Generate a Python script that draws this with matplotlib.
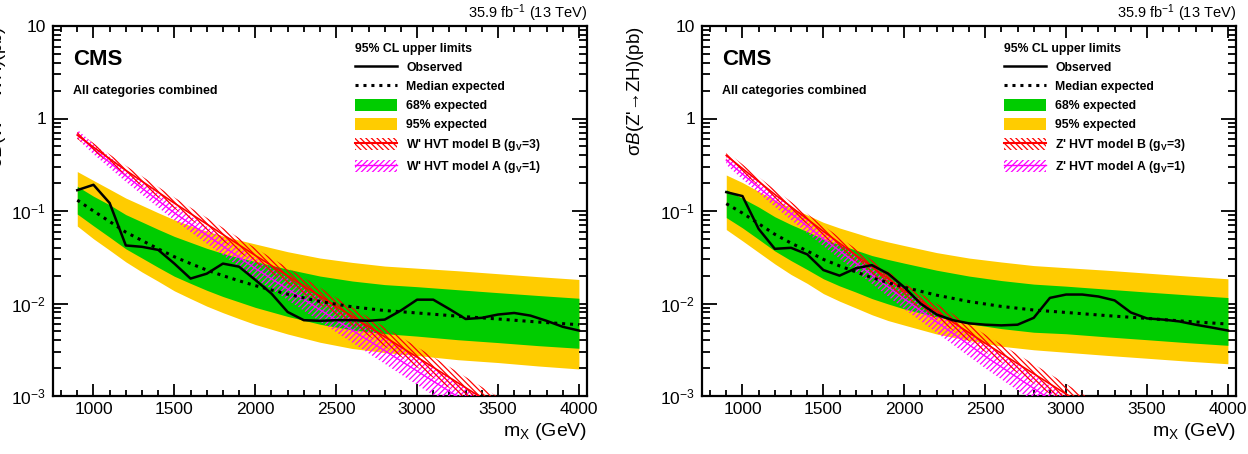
import matplotlib
matplotlib.use("Agg")
import matplotlib.pyplot as plt
from matplotlib.lines import Line2D
from matplotlib.patches import Patch
from matplotlib.ticker import MultipleLocator, LogLocator, NullFormatter

plt.rcParams['font.family'] = ['Liberation Sans', 'DejaVu Sans']
plt.rcParams['mathtext.fontset'] = 'custom'
plt.rcParams['mathtext.rm'] = 'Liberation Sans'
plt.rcParams['mathtext.it'] = 'Liberation Sans:italic'
plt.rcParams['mathtext.bf'] = 'Liberation Sans:bold'
plt.rcParams['hatch.linewidth'] = 0.9

# ---- data: expected limits (mass in GeV, limit in pb)
exp_mass = [900, 1000, 1100, 1200, 1300, 1400, 1500, 1600, 1700, 1800, 1900, 2000,
            2200, 2400, 2600, 2800, 3000, 3250, 3500, 3750, 4000]

wh_exp = [0.131, 0.100, 0.077, 0.059, 0.048, 0.039, 0.032, 0.027, 0.023, 0.020, 0.0176, 0.0156,
          0.0126, 0.0105, 0.0092, 0.0084, 0.0079, 0.0073, 0.0068, 0.0063, 0.0059]
wh_95_up = [0.267, 0.214, 0.172, 0.138, 0.115, 0.0957, 0.0804, 0.0694, 0.0605, 0.0538, 0.0485, 0.0440,
            0.0363, 0.0310, 0.0278, 0.0254, 0.0241, 0.0226, 0.0210, 0.0195, 0.0182]
wh_68_up = [0.185, 0.1445, 0.1166, 0.0914, 0.0761, 0.0633, 0.0531, 0.0458, 0.0395, 0.0348, 0.0313, 0.0284,
            0.0235, 0.0198, 0.0175, 0.0160, 0.0152, 0.0141, 0.0131, 0.0122, 0.0114]
wh_68_dn = [0.0927, 0.0692, 0.0521, 0.0390, 0.0310, 0.0246, 0.0197, 0.0165, 0.0139, 0.0119, 0.0104, 0.00908,
            0.00725, 0.00597, 0.00517, 0.00472, 0.00444, 0.00406, 0.00378, 0.00350, 0.00328]
wh_95_dn = [0.0688, 0.0501, 0.0377, 0.0282, 0.0219, 0.0174, 0.0137, 0.0113, 0.00937, 0.00796, 0.00685, 0.00593,
            0.00468, 0.00381, 0.00326, 0.00295, 0.00274, 0.00247, 0.00230, 0.00211, 0.00196]

zh_exp = [0.12, 0.095, 0.073, 0.056, 0.045, 0.037, 0.030, 0.0255, 0.022, 0.019, 0.0168, 0.0150,
          0.0123, 0.0105, 0.0093, 0.0085, 0.0080, 0.0074, 0.0069, 0.0064, 0.0060]
zh_95_up = [0.245, 0.203, 0.163, 0.131, 0.108, 0.0908, 0.0754, 0.0655, 0.0579, 0.0511, 0.0463, 0.0423,
            0.0355, 0.0310, 0.0281, 0.0257, 0.0244, 0.0229, 0.0213, 0.0198, 0.0185]
zh_68_up = [0.170, 0.137, 0.1105, 0.0867, 0.0713, 0.0600, 0.0498, 0.0433, 0.0378, 0.0330, 0.0299, 0.0273,
            0.0229, 0.0198, 0.0177, 0.0162, 0.0154, 0.0143, 0.0133, 0.0124, 0.0116]
zh_68_dn = [0.0849, 0.0657, 0.0494, 0.0370, 0.0291, 0.0233, 0.0185, 0.0155, 0.0133, 0.0113, 0.00989, 0.00873,
            0.00716, 0.00604, 0.00535, 0.00489, 0.00471, 0.00436, 0.00406, 0.00377, 0.00353]
zh_95_dn = [0.0630, 0.0476, 0.0357, 0.0268, 0.0206, 0.0165, 0.0128, 0.0106, 0.00896, 0.00756, 0.00654, 0.00584,
            0.00468, 0.00399, 0.00345, 0.00316, 0.00297, 0.00275, 0.00256, 0.00238, 0.00223]

# ---- data: observed limits
obs_mass = list(range(900, 4001, 100))
wh_obs = [0.168, 0.192, 0.122, 0.0424, 0.041, 0.038, 0.027, 0.0186, 0.021, 0.027, 0.025, 0.018,
          0.0128, 0.0081, 0.0066, 0.0065, 0.0066, 0.0066, 0.0065, 0.0067, 0.0084, 0.011, 0.011,
          0.0087, 0.0068, 0.0070, 0.0076, 0.0079, 0.0074, 0.0065, 0.0056, 0.0051]
zh_obs = [0.16, 0.145, 0.064, 0.039, 0.040, 0.034, 0.023, 0.020, 0.024, 0.026, 0.021, 0.015,
          0.010, 0.0076, 0.0066, 0.0061, 0.0059, 0.0058, 0.0059, 0.0070, 0.0115, 0.0125, 0.0125,
          0.0119, 0.0108, 0.0080, 0.0069, 0.0067, 0.0064, 0.0059, 0.0055, 0.0051]

# ---- data: HVT theory predictions (central, upper, lower)
hvt_mass = [900, 1000, 1200, 1500, 2000, 2500, 3000, 3500, 4000]

wp_B = [0.661, 0.490, 0.275, 0.1216, 0.0331, 0.00933, 0.00263, 0.000741, 0.000209]
wp_B_up = [0.724, 0.543, 0.309, 0.140, 0.0398, 0.0116, 0.00339, 0.000977, 0.000282]
wp_B_dn = [0.603, 0.442, 0.245, 0.106, 0.0275, 0.0075, 0.00204, 0.000562, 0.000155]
wp_A = [0.676, 0.468, 0.240, 0.0955, 0.0240, 0.00661, 0.00186, 0.000525, 0.000148]
wp_A_up = [0.759, 0.531, 0.279, 0.115, 0.0309, 0.00891, 0.00263, 0.000759, 0.000219]
wp_A_dn = [0.603, 0.412, 0.207, 0.0794, 0.0186, 0.0049, 0.00132, 0.000363, 0.000100]

zp_B = [0.398, 0.288, 0.151, 0.0603, 0.0138, 0.00372, 0.00105, 0.000295, 0.0000832]
zp_B_up = [0.437, 0.320, 0.170, 0.0692, 0.0166, 0.00462, 0.00135, 0.000389, 0.000112]
zp_B_dn = [0.363, 0.260, 0.135, 0.0525, 0.0115, 0.00299, 0.000813, 0.000224, 0.0000617]
zp_A = [0.355, 0.251, 0.129, 0.0501, 0.0112, 0.00269, 0.000708, 0.000191, 0.0000513]
zp_A_up = [0.398, 0.285, 0.150, 0.0603, 0.0145, 0.00363, 0.00100, 0.000275, 0.0000759]
zp_A_dn = [0.316, 0.221, 0.111, 0.0417, 0.00871, 0.00200, 0.000501, 0.000132, 0.0000347]

GREEN = '#00cc00'
YELLOW = '#ffcc00'
RED = '#ff0000'
MAGENTA = '#ff00ff'


def draw_panel(ax, exp, up95, up68, dn68, dn95, obs, B, B_up, B_dn, A, A_up, A_dn,
               ylabel, boson, label_x):
    ax.fill_between(exp_mass, dn95, up95, color=YELLOW, lw=0, zorder=1)
    ax.fill_between(exp_mass, dn68, up68, color=GREEN, lw=0, zorder=2)
    ax.fill_between(hvt_mass, A_dn, A_up, facecolor='none', edgecolor=MAGENTA,
                    hatch='//////', lw=0, zorder=3)
    ax.plot(hvt_mass, A, color=MAGENTA, lw=1.0, zorder=3)
    ax.fill_between(hvt_mass, B_dn, B_up, facecolor='none', edgecolor=RED,
                    hatch='\\\\\\\\\\\\', lw=0, zorder=4)
    ax.plot(hvt_mass, B, color=RED, lw=1.2, zorder=4)
    ax.plot(exp_mass, exp, color='black', ls=(0, (1, 1.6)), lw=2.2, zorder=5)
    ax.plot(obs_mass, obs, color='black', lw=1.8, zorder=6)

    ax.set_yscale('log')
    ax.set_xlim(750, 4050)
    ax.set_ylim(1e-3, 10)
    ax.set_yticks([1e-3, 1e-2, 1e-1, 1, 10])
    ax.set_yticklabels([r'$10^{-3}$', r'$10^{-2}$', r'$10^{-1}$', '1', '10'])
    ax.yaxis.set_minor_locator(LogLocator(base=10, subs=range(2, 10), numticks=20))
    ax.yaxis.set_minor_formatter(NullFormatter())
    ax.xaxis.set_major_locator(MultipleLocator(500))
    ax.xaxis.set_minor_locator(MultipleLocator(100))
    ax.tick_params(which='both', direction='in', top=True, right=True, width=1.3,
                   labelsize=12.5, colors='black')
    ax.tick_params(axis='x', which='major', length=8.5, pad=4)
    ax.tick_params(axis='x', which='minor', length=4.5)
    ax.tick_params(axis='y', which='major', length=11, pad=5)
    ax.tick_params(axis='y', which='minor', length=5.5)
    for sp in ax.spines.values():
        sp.set_linewidth(1.6)

    ax.set_xlabel(r'm$_\mathrm{X}$ (GeV)', fontsize=14, loc='right', labelpad=3)
    ax.set_ylabel(ylabel, fontsize=13.5, loc='top')
    ax.yaxis.set_label_coords(label_x, 1.0)

    ax.text(1.0, 1.006, r'35.9 fb$^{-1}$ (13 TeV)', transform=ax.transAxes,
            ha='right', va='bottom', fontsize=10.5)
    ax.text(0.037, 0.91, 'CMS', transform=ax.transAxes, ha='left', va='center',
            fontsize=16, fontweight='bold')
    ax.text(0.037, 0.825, 'All categories combined', transform=ax.transAxes,
            ha='left', va='center', fontsize=9, fontweight='bold')

    handles = [
        Line2D([], [], color='black', lw=1.8),
        Line2D([], [], color='black', ls=(0, (1, 1.6)), lw=2.2),
        Patch(facecolor=GREEN, lw=0),
        Patch(facecolor=YELLOW, lw=0),
        (Patch(facecolor='none', edgecolor=RED, hatch='\\\\\\\\\\\\', lw=0),
         Line2D([], [], color=RED, lw=1.5)),
        (Patch(facecolor='none', edgecolor=MAGENTA, hatch='//////', lw=0),
         Line2D([], [], color=MAGENTA, lw=1.0)),
    ]
    labels = ['Observed', 'Median expected', '68% expected', '95% expected',
              boson + r" HVT model B (g$_\mathbf{V}$=3)",
              boson + r" HVT model A (g$_\mathbf{V}$=1)"]
    leg = ax.legend(handles, labels, loc='upper left', bbox_to_anchor=(0.565, 0.955),
                    frameon=False, title='95% CL upper limits', alignment='left',
                    prop={'weight': 'bold', 'size': 8.8},
                    title_fontproperties={'weight': 'bold', 'size': 8.8},
                    handlelength=3.5, handleheight=1.1, handletextpad=0.7,
                    labelspacing=0.5, borderpad=0, borderaxespad=0)
    leg.set_zorder(10)


fig = plt.figure(figsize=(12.48, 4.54), dpi=100)
ax1 = fig.add_axes([53 / 1248, 58 / 454, 534 / 1248, 370 / 454])
ax2 = fig.add_axes([702 / 1248, 58 / 454, 534 / 1248, 370 / 454])

draw_panel(ax1, wh_exp, wh_95_up, wh_68_up, wh_68_dn, wh_95_dn, wh_obs,
           wp_B, wp_B_up, wp_B_dn, wp_A, wp_A_up, wp_A_dn,
           r"σ$\mathit{B}$(W'→WH)(pb)", "W'", -0.084)
draw_panel(ax2, zh_exp, zh_95_up, zh_68_up, zh_68_dn, zh_95_dn, zh_obs,
           zp_B, zp_B_up, zp_B_dn, zp_A, zp_A_up, zp_A_dn,
           r"σ$\mathit{B}$(Z'→ZH)(pb)", "Z'", -0.105)

fig.savefig('out.png', dpi=100)
